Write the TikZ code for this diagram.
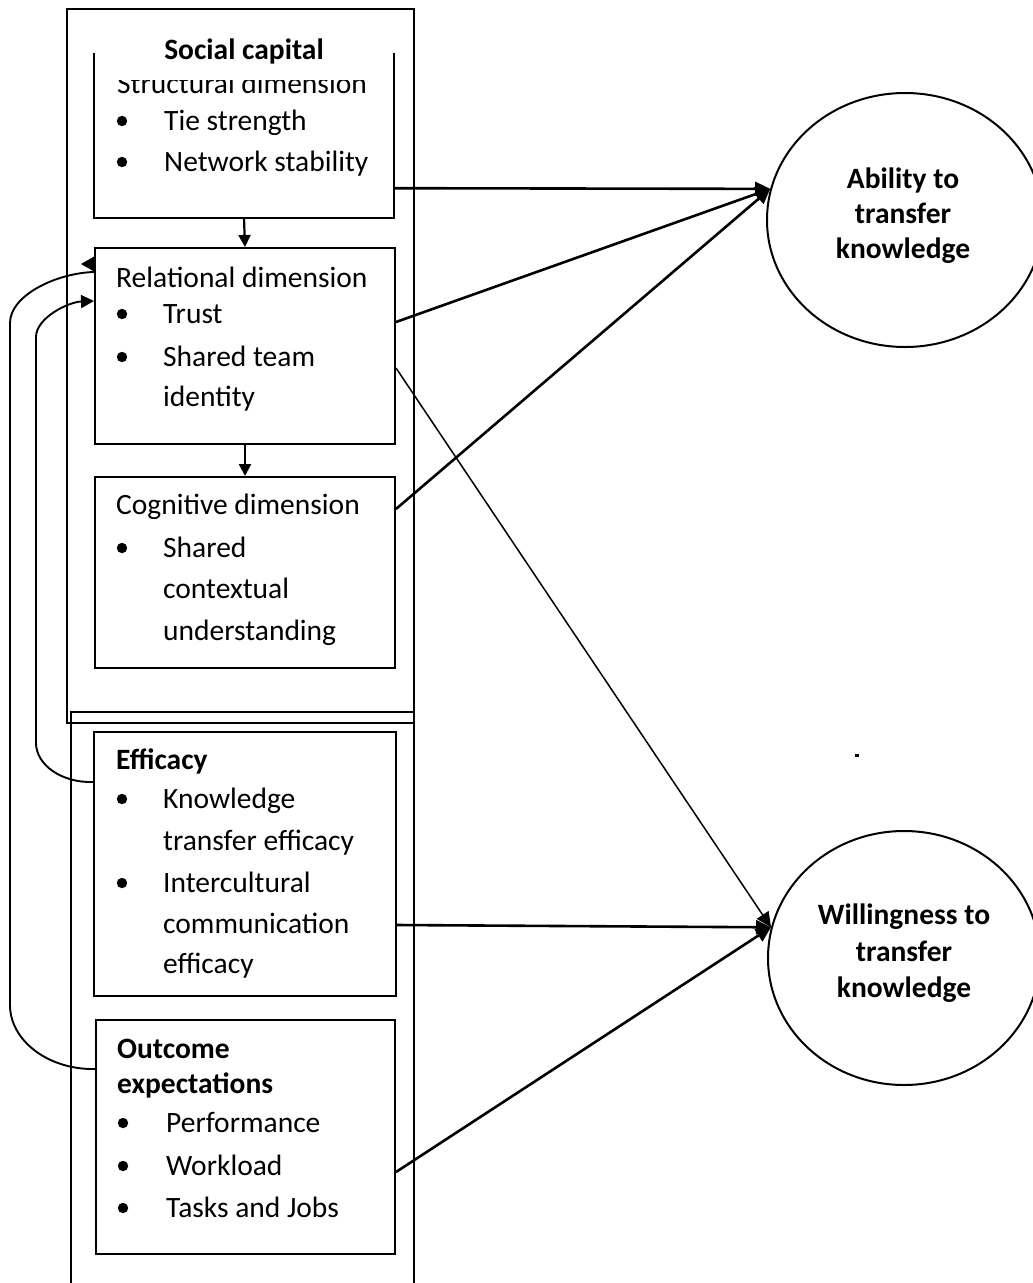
\documentclass[tikz,border=0pt]{standalone}
\usepackage{fontspec}
\setmainfont{Carlito}
\usetikzlibrary{arrows.meta,shapes.geometric,calc}
\newcommand\txtl[4]{\node[txt] (#1) at (#2,#3) {#4};}
\newcommand\bul[2]{\fill (#1,#2) circle (5.2);}
\begin{document}
\begin{tikzpicture}[x=1pt,y=-1pt,
  frame/.style={rectangle, draw, line width=2pt, inner sep=0pt},
  circ/.style={ellipse, draw, line width=2pt, inner sep=0pt},
  txt/.style={anchor=base west, inner sep=0pt, font=\fontsize{29.5}{35}\selectfont},
  ctxt/.style={anchor=base, inner sep=0pt, font=\fontsize{29.5}{35}\selectfont\bfseries},
  bigarrow/.style={line width=2.6pt, -{Triangle[length=15pt,width=14pt]}},
  thinarrow/.style={line width=1.5pt, -{Triangle[length=15pt,width=14pt]}},
  smallarrow/.style={line width=2.2pt, -{Triangle[length=12pt,width=12pt]}},
  feedback/.style={line width=1.9pt},
]
\useasboundingbox (0,0) rectangle (1033,1283);
\fill[white] (0,0) rectangle (1033,1283);
\clip (0,0) rectangle (1033,1283);

% outer frames
\node[frame, minimum width=347pt, minimum height=714pt] (sc) at (240.5,366) {};
\node[frame, minimum width=343pt, minimum height=588pt] (sct) at (242.5,1006) {};

% structural box (open top)
\node[rectangle, inner sep=0pt, minimum width=300pt, minimum height=165pt] (struct) at (244,135.5) {};
\draw[line width=2pt] (struct.north west) -- (struct.south west) -- (struct.south east) -- (struct.north east);
\begin{scope}
  \clip (96,80) rectangle (392,216);
  \txtl{sdim}{117}{93}{Structural dimension}
\end{scope}
\node[ctxt] (sctitle) at (244,59) {Social capital};
\bul{122}{121}\txtl{s1}{164}{130}{Tie strength}
\bul{122}{162}\txtl{s2}{164}{171}{Network stability}

% relational
\node[frame, minimum width=300pt, minimum height=196pt] (rel) at (245,346) {};
\txtl{rdim}{116}{287}{Relational dimension}
\bul{122}{314}\txtl{r1}{163}{323}{Trust}
\bul{122}{357}\txtl{r2}{163}{366}{Shared team}
\txtl{r3}{163}{406}{identity}

% cognitive
\node[frame, minimum width=300pt, minimum height=191pt] (cog) at (245,572.5) {};
\txtl{cdim}{116}{514}{Cognitive dimension}
\bul{122}{548}\txtl{c1}{163}{557}{Shared}
\txtl{c2}{163}{598}{contextual}
\txtl{c3}{163}{640}{understanding}

% efficacy
\node[frame, minimum width=302pt, minimum height=264pt] (eff) at (245,864) {};
\txtl{edim}{116}{769}{\bfseries Efficacy}
\bul{122}{799}\txtl{e1}{163}{808}{Knowledge}
\txtl{e2}{163}{850}{transfer efficacy}
\bul{122}{883}\txtl{e3}{163}{892}{Intercultural}
\txtl{e4}{163}{933}{communication}
\txtl{e5}{163}{973}{efficacy}

% outcome expectations
\node[frame, minimum width=299pt, minimum height=234pt] (out) at (245.5,1137) {};
\txtl{odim}{117}{1058}{\bfseries Outcome}
\txtl{odim2}{117}{1093}{\bfseries expectations}
\bul{123}{1123}\txtl{o1}{166}{1132}{Performance}
\bul{123}{1166}\txtl{o2}{166}{1175}{Workload}
\bul{123}{1208}\txtl{o3}{166}{1217}{Tasks and Jobs}

% outcome circles
\node[circ, minimum width=276pt, minimum height=254pt] (abil) at (905,220) {};
\node[ctxt] (a1) at (903,188) {Ability to};
\node[ctxt] (a2) at (903,223) {transfer};
\node[ctxt] (a3) at (903,258) {knowledge};

\node[circ, minimum width=272pt, minimum height=254pt] (will) at (904,958) {};
\node[ctxt] (w1) at (904,924) {Willingness to};
\node[ctxt] (w2) at (904,961) {transfer};
\node[ctxt] (w3) at (904,997) {knowledge};

% stray mark
\fill (855,754) rectangle (859,756.5);

% arrows between dimensions
\draw[smallarrow] (struct.south) -- (rel.north);
\draw[smallarrow] (rel.south) -- (cog.north);

% arrows to outcomes
\draw[bigarrow] ($(struct.south east)+(0,-30)$) -- (abil.167);
\draw[bigarrow] ($(rel.north east)+(0,75)$) -- (abil.167);
\draw[bigarrow] ($(cog.north east)+(0,33)$) -- (abil.167);
\draw[thinarrow] ($(rel.north east)+(0,121)$) -- (will.167);
\draw[bigarrow] ($(eff.north east)+(0,194)$) -- (will.167);
\draw[bigarrow] ($(out.north east)+(0,153)$) -- (will.167);

% feedback loops
\draw[feedback, -{Triangle[length=13pt,width=13pt]}] ($(eff.north west)+(0,51)$)
  .. controls (62,783) and (36,765) .. (36,743)
  -- (36,337)
  .. controls (36,318) and (68,302) .. ($(rel.north west)+(0,54)$);
\draw[feedback] ($(out.north west)+(0,50)$)
  .. controls (49,1070) and (10,1041) .. (10,1005)
  -- (10,323)
  .. controls (10,295) and (57,273) .. ($(rel.north west)+(0,25)$);
\fill (95,256) -- (81,264) -- (95,272) -- cycle;
\end{tikzpicture}
\end{document}
